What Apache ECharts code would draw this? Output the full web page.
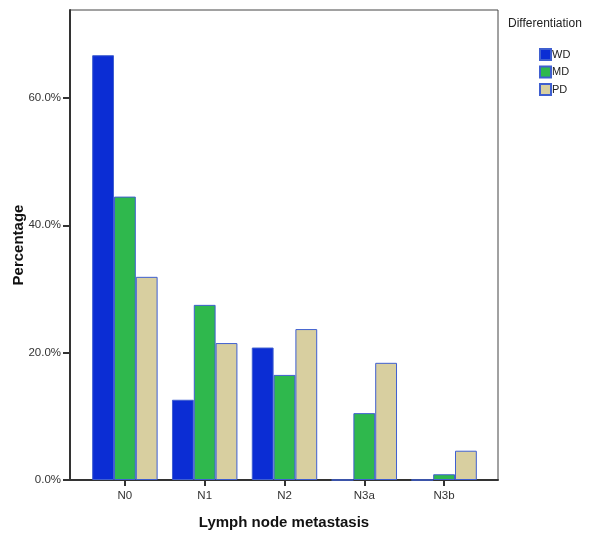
<!DOCTYPE html>
<html>
<head>
<meta charset="utf-8">
<script src="https://cdn.jsdelivr.net/npm/echarts@6/dist/echarts.min.js"></script>
<style>
  html, body { margin: 0; padding: 0; background: #fff; }
  #chart { width: 600px; height: 542px; }
</style>
</head>
<body>
<div id="chart"></div>
<script>
// -- Data --
const categories = ['N0', 'N1', 'N2', 'N3a', 'N3b'];
const wd = [66.7, 12.6, 20.8, 0, 0];
const md = [44.5, 27.5, 16.5, 10.5, 0.9];
const pd = [31.9, 21.5, 23.7, 18.4, 4.6];
const yTicks = [0, 20, 40, 60];
const yMax = 73.8;

// -- SPSS-like colours --
const COLORS = {
  wd: '#0b2dd4',
  md: '#2fb84d',
  pd: '#d8cfa0',
  edge: '#3f5fd0',
  axis: '#333333',
  text: '#333333'
};

const FONT = 'Arial, "Liberation Sans", sans-serif';

function barSeries(name, data, color) {
  return {
    name,
    type: 'bar',
    xAxisIndex: 1,
    yAxisIndex: 1,
    data,
    barGap: '0%',
    barCategoryGap: '18%',
    itemStyle: { color, borderColor: COLORS.edge, borderWidth: 1 },
    emphasis: { disabled: true }
  };
}

const chart = echarts.init(document.getElementById('chart'), null, { renderer: 'canvas' });

chart.setOption({
  animation: false,
  backgroundColor: '#fff',
  grid: [
    // frame grid
    { left: 70, right: 102, top: 10, bottom: 62, show: true, borderColor: '#444', borderWidth: 1,
      outerBoundsMode: 'none', containLabel: false },
    // bar grid (inset so categories sit like the SPSS plot)
    { left: 85, right: 116, top: 10, bottom: 62, outerBoundsMode: 'none', containLabel: false }
  ],
  xAxis: [
    {
      gridIndex: 0, type: 'value', min: 0, max: 1,
      axisLine: { show: true, onZero: false, lineStyle: { color: COLORS.axis, width: 2 } },
      axisTick: { show: false }, axisLabel: { show: false }, splitLine: { show: false },
      name: 'Lymph node metastasis', nameLocation: 'middle', nameGap: 35, nameMoveOverlap: false,
      nameTextStyle: { fontFamily: FONT, fontSize: 15, fontWeight: 'bold', color: '#111' }
    },
    {
      gridIndex: 1, type: 'category', data: categories,
      axisLine: { show: false },
      axisTick: { show: true, alignWithLabel: true, length: 6, lineStyle: { color: COLORS.axis, width: 2 } },
      axisLabel: { fontFamily: FONT, fontSize: 11.5, color: COLORS.text, margin: 10 }
    }
  ],
  yAxis: [
    {
      gridIndex: 0, type: 'value', min: 0, max: yMax,
      axisLine: { show: true, lineStyle: { color: COLORS.axis, width: 2 } },
      axisTick: { show: true, length: 7, customValues: yTicks, lineStyle: { color: COLORS.axis, width: 2 } },
      axisLabel: {
        customValues: yTicks, margin: 9,
        fontFamily: FONT, fontSize: 11.5, color: COLORS.text,
        formatter: v => v.toFixed(1) + '%'
      },
      splitLine: { show: false },
      name: 'Percentage', nameLocation: 'middle', nameGap: 44, nameRotate: 90, nameMoveOverlap: false,
      nameTextStyle: { fontFamily: FONT, fontSize: 15, fontWeight: 'bold', color: '#111' }
    },
    {
      gridIndex: 1, type: 'value', min: 0, max: yMax, show: false
    }
  ],
  legend: {
    orient: 'vertical',
    left: 534, top: 43,
    itemWidth: 11, itemHeight: 11, itemGap: 4.5,
    icon: 'rect',
    textStyle: { fontFamily: FONT, fontSize: 11, color: '#222', padding: [0, 0, 0, -4] },
    data: ['WD', 'MD', 'PD']
  },
  graphic: [
    {
      type: 'text', left: 508, top: 18,
      style: { text: 'Differentiation', fontFamily: FONT, fontSize: 12, fill: '#222' }
    }
  ],
  series: [
    barSeries('WD', wd, COLORS.wd),
    barSeries('MD', md, COLORS.md),
    barSeries('PD', pd, COLORS.pd)
  ]
});
</script>
</body>
</html>
